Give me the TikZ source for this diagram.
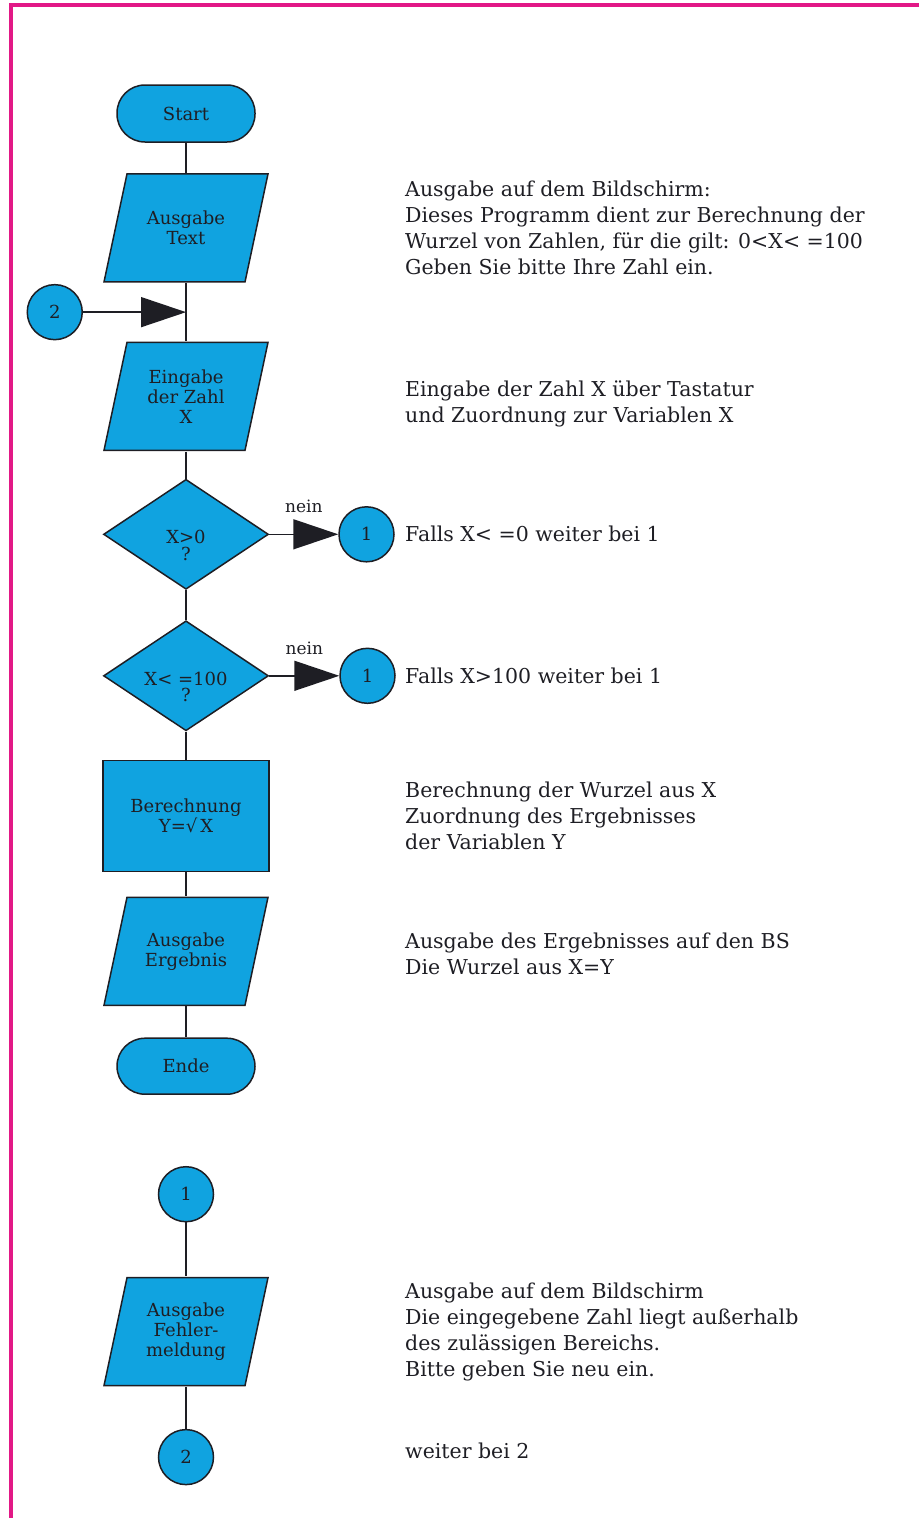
\documentclass[tikz,border=0pt]{standalone}
\usepackage{fontspec}
\setmainfont{DejaVu Serif}
\usepackage{tikz}
\usetikzlibrary{shapes.geometric, positioning, arrows.meta, calc}
\definecolor{flowblue}{RGB}{16,163,224}
\definecolor{framepink}{RGB}{226,24,134}
\definecolor{inkdark}{RGB}{30,30,36}
% Bedingung mit Fragezeichen, etwas tiefer gesetzt
\newcommand{\decq}[1]{\raisebox{-11pt}[\height][\depth]{\shortstack{#1\\?}}}
\tikzset{
  terminal/.style={rectangle, rounded corners=28pt, minimum width=138pt, minimum height=56pt, align=center, draw=inkdark, fill=flowblue, line width=1.5pt},
  process/.style={rectangle, minimum width=166pt, minimum height=111pt, align=center, draw=inkdark, fill=flowblue, line width=1.5pt},
  decision/.style={diamond, aspect=1.5, minimum width=165pt, minimum height=110pt, inner sep=0pt, draw=inkdark, fill=flowblue, line width=1.5pt},
  io/.style={rectangle, minimum width=166pt, minimum height=110pt, inner sep=0pt, align=center, fill=white,
    path picture={\draw [draw=inkdark, fill=flowblue, line width=1.5pt]
      ([shift={(24pt,-1pt)}]path picture bounding box.north west) --
      ([shift={(-1pt,-1pt)}]path picture bounding box.north east) --
      ([shift={(-24pt,1pt)}]path picture bounding box.south east) --
      ([shift={(1pt,1pt)}]path picture bounding box.south west) -- cycle;}},
  connector/.style={circle, minimum size=55pt, inner sep=0pt, draw=inkdark, fill=flowblue, line width=1.5pt},
  note/.style={anchor=west, align=left, inner sep=0pt, font=\fontsize{20.5}{26}\selectfont},
  branchlabel/.style={above=17pt, font=\fontsize{17}{20}\selectfont},
  line/.style={line width=1.5pt, draw=inkdark},
  arrow/.style={line, -{Triangle[length=45pt, width=30pt]}}
}

\begin{document}
\begin{tikzpicture}[
            every node/.style={font=\fontsize{18}{20}\selectfont, text=inkdark}
        ]
            % Bildgroesse und Rahmen
            \useasboundingbox (0,0) rectangle (919pt,-1518pt);
            \draw [framepink, line width=3.5pt] (919pt,-5pt) -- (11pt,-5pt) -- (11pt,-1518pt);
            \coordinate (notex) at (405pt,0);

            % Hauptablauf
            \node (start) [terminal, minimum height=57pt] at (186pt,-113.5pt) {Start};
            \node (ausgtext) [io, below=30pt of start] {Ausgabe\\Text};
            \node (eingabe) [io, below=58pt of ausgtext] {Eingabe\\der Zahl\\X};
            \node (dec1) [decision, below=27pt of eingabe] {\decq{X>0}};
            \node (dec2) [decision, below=30pt of dec1] {\decq{X< =100}};
            \node (calc) [process, below=28pt of dec2] {Berechnung\\Y=√\,X};
            \node (ausgerg) [io, below=24pt of calc] {Ausgabe\\Ergebnis};
            \node (ende) [terminal, below=31pt of ausgerg] {Ende};

            % Konnektoren
            \coordinate (merge) at ($(ausgtext.south)!0.5!(eingabe.north)$);
            \node (con2a) [connector, left=103pt of merge] {2};
            \node (con1a) [connector, right=69pt of dec1] {1};
            \node (con1b) [connector, right=70pt of dec2] {1};

            % Fehlerzweig
            \node (con1c) [connector, below=71pt of ende] {1};
            \node (fehler) [io, below=54pt of con1c] {Ausgabe\\Fehler-\\meldung};
            \node (con2b) [connector, below=42pt of fehler] {2};

            % Verbindungen
            \draw [line] (start) -- (ausgtext);
            \draw [line] (ausgtext) -- (eingabe);
            \draw [arrow] (con2a) -- (merge);
            \draw [line] (eingabe) -- (dec1);
            \draw [arrow] (dec1) -- node[branchlabel] {nein} (con1a);
            \draw [line] (dec1) -- (dec2);
            \draw [arrow] (dec2) -- node[branchlabel] {nein} (con1b);
            \draw [line] (dec2) -- (calc);
            \draw [line] (calc) -- (ausgerg);
            \draw [line] (ausgerg) -- (ende);
            \draw [line] (con1c) -- (fehler);
            \draw [line] (fehler) -- (con2b);

            % Erlaeuterungen
            \node (notetext) [note] at (ausgtext -| notex) {Ausgabe auf dem Bildschirm:\\Dieses Programm dient zur Berechnung der\\Wurzel von Zahlen, für die gilt: 0<X< =100\\Geben Sie bitte Ihre Zahl ein.};
            \node (noteein) [note, yshift=-8pt] at (eingabe -| notex) {Eingabe der Zahl X über Tastatur\\und Zuordnung zur Variablen X};
            \node (notedec1) [note] at (dec1 -| notex) {Falls X< =0 weiter bei 1};
            \node (notedec2) [note] at (dec2 -| notex) {Falls X>100 weiter bei 1};
            \node (notecalc) [note] at (calc -| notex) {Berechnung der Wurzel aus X\\Zuordnung des Ergebnisses\\der Variablen Y};
            \node (noteerg) [note, yshift=-3pt] at (ausgerg -| notex) {Ausgabe des Ergebnisses auf den BS\\Die Wurzel aus X=Y};
            \node (notefehler) [note] at (fehler -| notex) {Ausgabe auf dem Bildschirm\\Die eingegebene Zahl liegt außerhalb\\des zulässigen Bereichs.\\Bitte geben Sie neu ein.};
            \node (noteweiter) [note, yshift=6pt] at (con2b -| notex) {weiter bei 2};
\end{tikzpicture}
\end{document}
